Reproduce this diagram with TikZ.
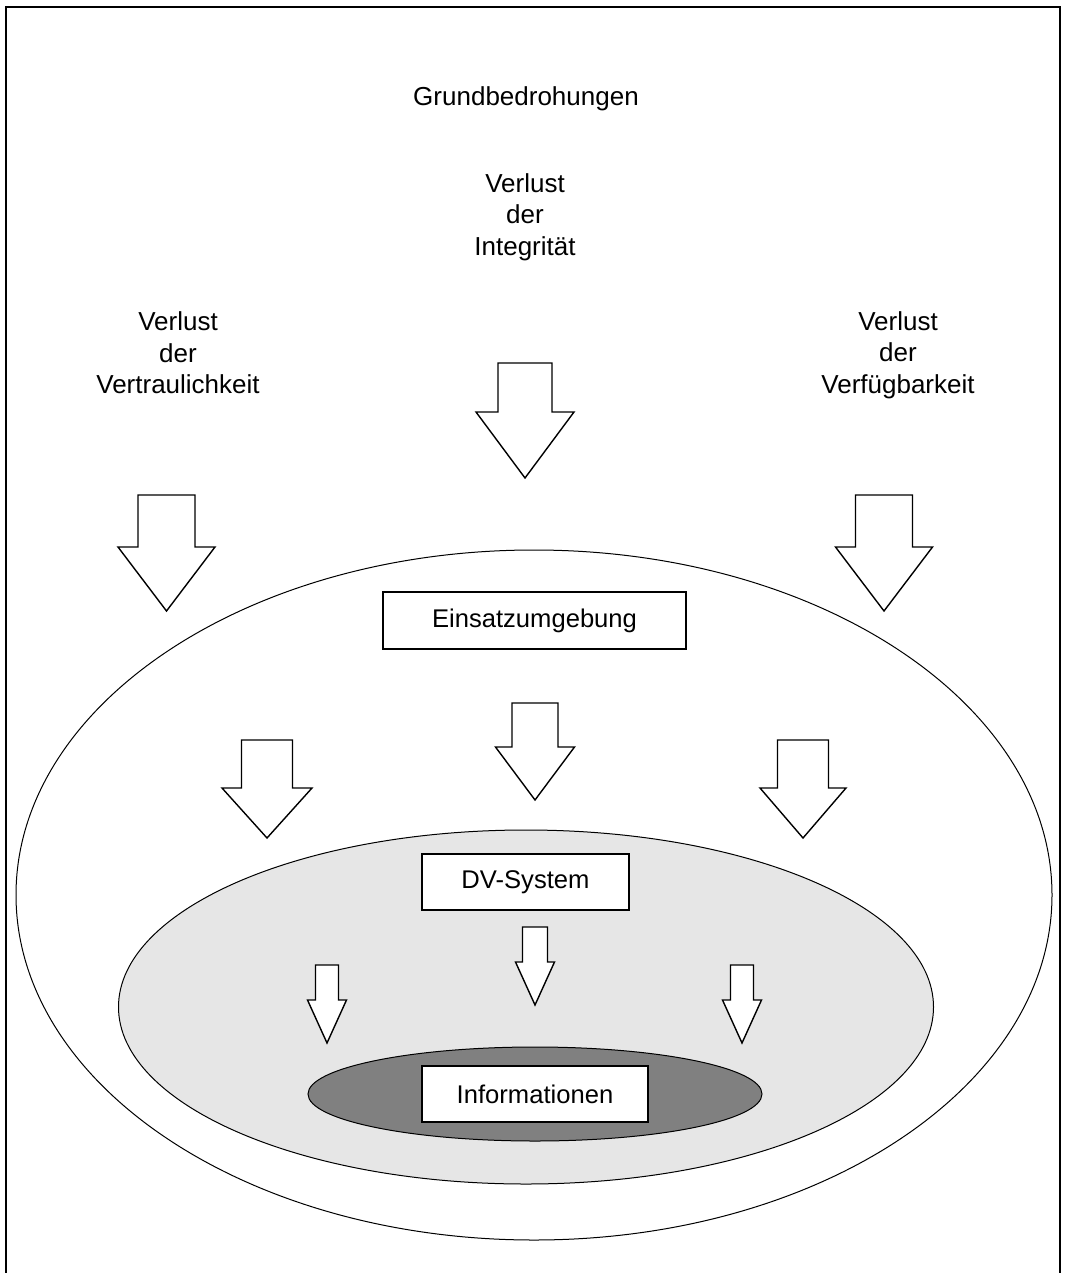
\documentclass[tikz,border=0pt]{standalone}
\usepackage{fontspec}
\setmainfont{Liberation Sans}
\usetikzlibrary{shapes.geometric}
\definecolor{lightfill}{HTML}{E6E6E6}
\definecolor{darkfill}{HTML}{808080}
% down arrow: tip x, tip y, shaft half width, head half width, shaft top y, head base y
\newcommand\downarr[6]{%
  \draw[arrowline] (#1-#3,#5) -- (#1+#3,#5) -- (#1+#3,#6) -- (#1+#4,#6)
    -- (#1,#2) -- (#1-#4,#6) -- (#1-#3,#6) -- cycle;}
\begin{document}
\begin{tikzpicture}[x=1pt,y=-1pt,
  lbl/.style={align=center,font=\fontsize{26}{31.5}\selectfont},
  layer/.style={ellipse,draw,line width=1pt,inner sep=0pt},
  tagbox/.style={draw,fill=white,line width=1.2pt,inner sep=0pt,font=\fontsize{25.6}{31.5}\selectfont},
  arrowline/.style={draw,fill=white,line width=1.4pt,line join=miter}]
\useasboundingbox (0,0) rectangle (1067,1273);
% open frame (bottom edge lies outside the page)
\draw[line width=1.4pt] (6,1273) -- (6,7) -- (1060,7) -- (1060,1273);

% nested layers
\node[layer,fill=white,minimum width=1036pt,minimum height=690pt] (env) at (534,895) {};
\node[layer,fill=lightfill,minimum width=815pt,minimum height=354pt] (dv) at (526,1007) {};
\node[layer,fill=darkfill,minimum width=454pt,minimum height=94pt] (info) at (535,1094) {};

% labels of the layers
\node[tagbox,minimum width=303pt,minimum height=57pt] (envbox) at (534.5,620.5) {Einsatzumgebung};
\node[tagbox,minimum width=207pt,minimum height=56pt] (dvbox) at (525.5,882) {DV-System};
\node[tagbox,minimum width=226pt,minimum height=56pt] (infobox) at (535,1094) {Informationen};

% threat labels
\node[lbl] (title) at (526,99) {Grundbedrohungen};
\node[lbl] (integ) at (525,217) {Verlust\\der\\Integrität};
\node[lbl] (vertr) at (178,353) {Verlust\\der\\Vertraulichkeit};
\node[lbl] (verfueg) at (898,355) {Verlust\\der\\Verfügbarkeit};

% outer threat arrows
\downarr{525}{478}{27}{49}{363}{412}
\downarr{166.5}{611}{28.5}{48.5}{495}{547}
\downarr{884}{611}{28.5}{48.5}{495}{547}

% arrows into the system
\downarr{535}{800}{23}{39.5}{703}{747}
\downarr{267}{838}{25.5}{45}{740}{788}
\downarr{803}{838}{25.5}{43}{740}{788}

% arrows onto the information
\downarr{535}{1005}{12.5}{19.5}{927}{962}
\downarr{327}{1043}{11.5}{19.5}{965}{1000}
\downarr{742}{1043}{11.5}{19.5}{965}{1000}
\end{tikzpicture}
\end{document}
